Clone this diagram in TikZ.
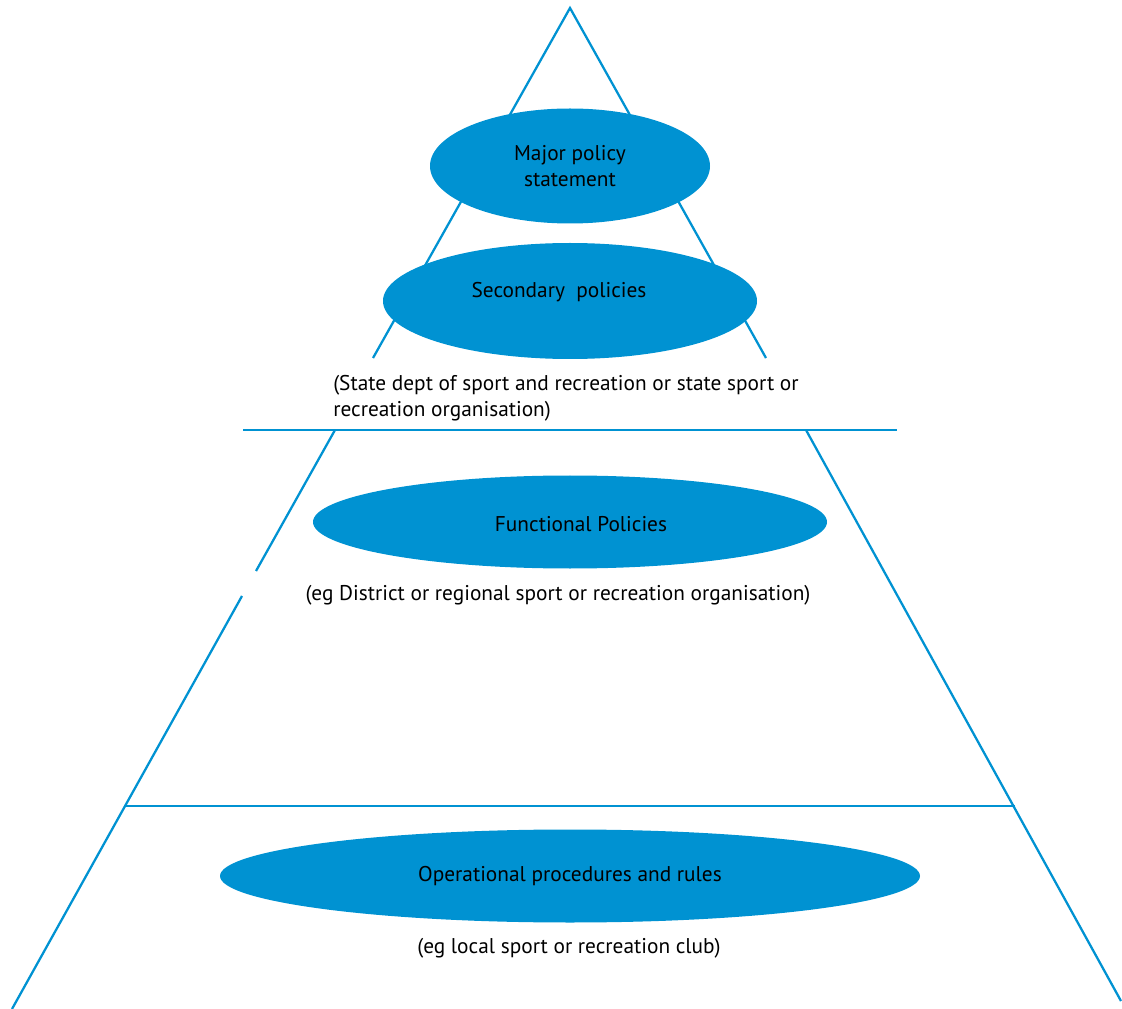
\documentclass[tikz,border=0pt]{standalone}
\usepackage{fontspec}
\setmainfont{PT Sans}
\usetikzlibrary{shapes.geometric}
\definecolor{polblue}{RGB}{0,146,210}
\tikzset{
  edge/.style={draw=polblue,line width=1.7pt},
  pol/.style={ellipse,fill=polblue,inner sep=0pt,font=\fontsize{16}{20}\selectfont,align=center},
  note/.style={font=\fontsize{16}{19.5}\selectfont,inner sep=0pt}
}
\begin{document}
\begin{tikzpicture}[x=0.75pt,y=-0.75pt]
\useasboundingbox (0,0) rectangle (1122,1009);
% outline of the pyramid
\coordinate (apex) at (570,8);
\coordinate (tl) at (373,358);
\coordinate (tr) at (766,358);
\draw[edge] (tl)--(apex)--(tr);
\coordinate (b1l) at (243,430);
\coordinate (b1r) at (897,430);
\draw[edge] (b1l)--(b1r);
\coordinate (ml) at (335,430);
\coordinate (mlg) at (256,571);
\coordinate (mlh) at (242,596);
\coordinate (bl) at (12,1009);
\draw[edge] (ml)--(mlg);
\draw[edge] (mlh)--(bl);
\coordinate (mr) at (806,430);
\coordinate (br) at (1121,1001);
\draw[edge] (mr)--(br);
\coordinate (b2l) at (125,806);
\coordinate (b2r) at (1015,806);
\draw[edge] (b2l)--(b2r);
% levels
\node[pol,minimum width=210pt,minimum height=86.25pt] (major) at (570,166) {Major policy\\statement};
\node[pol,minimum width=280.5pt,minimum height=87pt] (second) at (570,301) {};
\node[note] (secondtxt) at (559,292) {Secondary\ \ policies};
\node[note,anchor=west,align=left] (state) at (333,398) {(State dept of sport and recreation or state sport or\\recreation organisation)};
\node[pol,minimum width=385.5pt,minimum height=69.75pt] (func) at (570,522) {};
\node[note] (functxt) at (581,524) {Functional Policies};
\node[note] (district) at (558,595) {(eg District or regional sport or recreation organisation)};
\node[pol,minimum width=525pt,minimum height=69.75pt] (oper) at (570,876) {\raisebox{-2pt}{Operational procedures and rules}};
\node[note] (local) at (569,948) {(eg local sport or recreation club)};
\end{tikzpicture}
\end{document}
